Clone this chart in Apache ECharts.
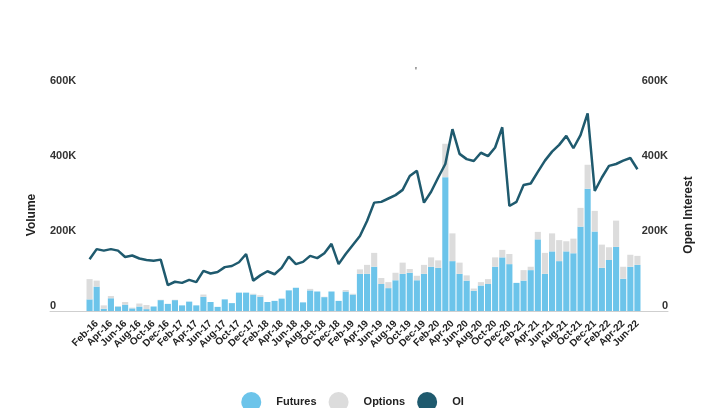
<!DOCTYPE html>
<html>
<head>
<meta charset="utf-8">
<script src="https://cdn.jsdelivr.net/npm/echarts@6/dist/echarts.min.js"></script>
<style>
  html, body { margin: 0; padding: 0; background: #fff; }
  #chart { width: 705px; height: 408px; }
</style>
</head>
<body>
<div id="chart"></div>
<script>
  // monthly, Jan-16 .. Jun-22 (values in thousands)
  const months = [
    'Jan-16','Feb-16','Mar-16','Apr-16','May-16','Jun-16','Jul-16','Aug-16','Sep-16','Oct-16','Nov-16','Dec-16',
    'Jan-17','Feb-17','Mar-17','Apr-17','May-17','Jun-17','Jul-17','Aug-17','Sep-17','Oct-17','Nov-17','Dec-17',
    'Jan-18','Feb-18','Mar-18','Apr-18','May-18','Jun-18','Jul-18','Aug-18','Sep-18','Oct-18','Nov-18','Dec-18',
    'Jan-19','Feb-19','Mar-19','Apr-19','May-19','Jun-19','Jul-19','Aug-19','Sep-19','Oct-19','Nov-19','Dec-19',
    'Jan-20','Feb-20','Mar-20','Apr-20','May-20','Jun-20','Jul-20','Aug-20','Sep-20','Oct-20','Nov-20','Dec-20',
    'Jan-21','Feb-21','Mar-21','Apr-21','May-21','Jun-21','Jul-21','Aug-21','Sep-21','Oct-21','Nov-21','Dec-21',
    'Jan-22','Feb-22','Mar-22','Apr-22','May-22','Jun-22'
  ];
  const futures = [
    31,65,6,34,12,17,7,12,5,12,
    29,19,29,15,25,15,38,24,11,31,
    21,49,49,44,38,24,27,33,55,62,
    23,55,52,37,52,27,52,44,99,99,
    118,72,61,82,99,102,82,99,118,115,
    357,133,99,81,54,68,72,118,143,125,
    75,81,109,191,99,159,133,159,154,225,
    326,212,115,136,171,86,118,123
  ];
  const options = [
    54,16,9,6,1,7,2,8,11,0,
    1,0,1,0,0,0,6,0,0,0,
    0,0,0,2,4,0,0,0,0,0,
    0,4,0,1,0,0,4,2,12,24,
    37,16,16,20,30,10,12,24,25,20,
    89,74,30,14,6,9,13,25,20,27,
    0,28,9,20,56,48,56,27,39,50,
    64,55,62,34,70,32,32,24
  ];
  const openInterest = [
    138,165,161,165,161,144,148,140,136,134,
    137,69,78,75,83,77,107,100,104,117,
    120,130,152,81,95,106,98,115,145,125,
    131,147,141,154,179,125,152,176,200,240,
    289,291,300,309,323,360,374,289,318,356,
    392,485,419,405,400,422,413,436,490,280,
    291,336,340,371,401,425,443,467,434,469,
    527,320,356,387,392,401,408,378
  ];
  const volumeTicks = [0, 600, 200]; // min, max, step

  const font = 'Liberation Sans, Arial, sans-serif';
  const kFmt = v => v === 0 ? '0' : v + 'K';

  let chart = echarts.init(document.getElementById('chart'));
  let option = {
    animation: false,
    textStyle: { fontFamily: font },
    title: {
      text: "'",
      left: 410,
      top: 62,
      textStyle: { fontSize: 10, color: '#333', fontWeight: 'normal' }
    },
    legend: {
      data: ['Futures', 'Options', 'OI'],
      left: 'center',
      top: 387,
      icon: 'circle',
      itemWidth: 20,
      itemHeight: 20,
      itemGap: 12,
      textStyle: { color: '#222', fontSize: 11, fontWeight: 'bold', padding: [0, 0, 0, 10] }
    },
    grid: [
      { left: 86, right: 64, top: 86, bottom: 97 },
      // wider grid only for the gray baseline
      { left: 50, right: 37, top: 86, bottom: 97 }
    ],
    xAxis: [
      {
        type: 'category',
        data: months,
        gridIndex: 0,
        axisLine: { show: false },
        axisTick: { show: false },
        axisLabel: {
          rotate: 45,
          interval: (idx) => idx % 2 === 1,
          margin: 11,
          fontSize: 10,
          fontWeight: 'bold',
          color: '#222'
        }
      },
      {
        type: 'value',
        gridIndex: 1,
        min: 0,
        max: 1,
        axisLine: { show: true, lineStyle: { color: '#cfcfcf', width: 1 } },
        axisTick: { show: false },
        axisLabel: { show: false },
        splitLine: { show: false }
      }
    ],
    yAxis: [
      {
        type: 'value',
        gridIndex: 0,
        min: volumeTicks[0],
        max: volumeTicks[1],
        interval: volumeTicks[2],
        name: 'Volume',
        nameLocation: 'middle',
        nameRotate: 90,
        nameGap: 48,
        nameTextStyle: { fontSize: 12, fontWeight: 'bold', color: '#222', padding: [0, 33, 0, 0] },
        axisLine: { show: false },
        axisTick: { show: false },
        splitLine: { show: false },
        axisLabel: {
          formatter: kFmt,
          align: 'left',
          verticalAlign: 'bottom',
          margin: 36,
          fontSize: 11,
          fontWeight: 'bold',
          color: '#333'
        }
      },
      {
        type: 'value',
        gridIndex: 0,
        position: 'right',
        min: volumeTicks[0],
        max: volumeTicks[1],
        interval: volumeTicks[2],
        name: 'Open Interest',
        nameLocation: 'middle',
        nameRotate: 90,
        nameGap: 42,
        nameTextStyle: { fontSize: 12, fontWeight: 'bold', color: '#222', padding: [0, 33, 0, 0] },
        axisLine: { show: false },
        axisTick: { show: false },
        splitLine: { show: false },
        axisLabel: {
          formatter: kFmt,
          align: 'right',
          verticalAlign: 'bottom',
          margin: 27,
          fontSize: 11,
          fontWeight: 'bold',
          color: '#333'
        }
      },
      {
        type: 'value',
        gridIndex: 1,
        show: false
      }
    ],
    series: [
      {
        name: 'Futures',
        type: 'bar',
        stack: 'vol',
        data: futures,
        barCategoryGap: '14%',
        itemStyle: { color: '#6cc4ea' }
      },
      {
        name: 'Options',
        type: 'bar',
        stack: 'vol',
        data: options,
        itemStyle: { color: '#dcdcdc' }
      },
      {
        name: 'OI',
        type: 'line',
        yAxisIndex: 1,
        data: openInterest,
        symbol: 'none',
        itemStyle: { color: '#1f5a6e' },
        lineStyle: { color: '#1f5a6e', width: 2.5 },
        z: 5
      }
    ]
  };
  chart.setOption(option);
</script>
</body>
</html>
